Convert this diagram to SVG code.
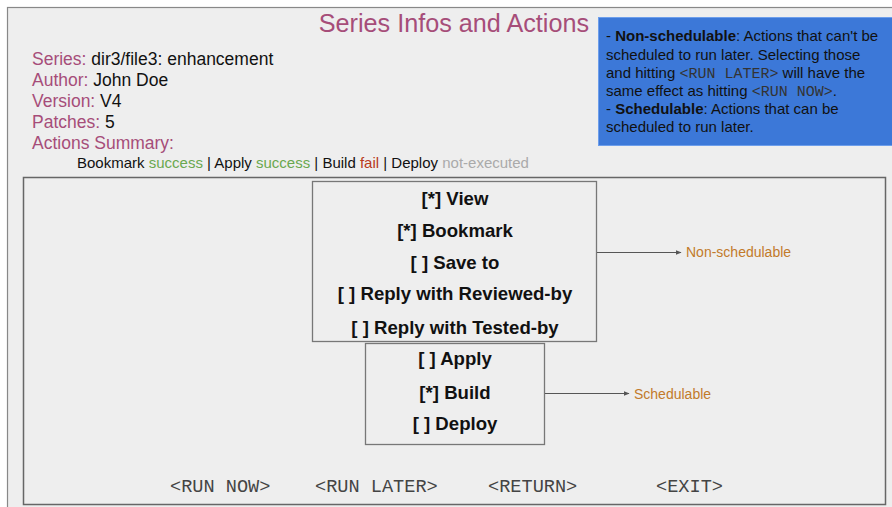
<svg xmlns="http://www.w3.org/2000/svg" width="892" height="507" viewBox="0 0 892 507">
<defs>
<style>
.sans{font-family:"Liberation Sans",Arial,sans-serif}
.lbl{fill:#a64d79}
.val{fill:#111}
.item{font-family:"Liberation Sans",Arial,sans-serif;font-weight:bold;font-size:18.6px;fill:#111;text-anchor:middle}
.box{fill:none;stroke:#777;stroke-width:1.3}
.conn{stroke:#555;stroke-width:1;fill:none;marker-end:url(#ah)}
.tag{font-family:"Liberation Sans",Arial,sans-serif;font-size:14px;fill:#c27a2a}
.btn{font-family:"Liberation Mono","Courier New",monospace;font-size:18.6px;fill:#444}
.note{font-family:"Liberation Sans",Arial,sans-serif;font-size:15px;fill:#111}
.nmono{font-family:"Liberation Mono","Courier New",monospace;font-size:15px;fill:#333}
</style>
<marker id="ah" viewBox="0 0 10 10" refX="9" refY="5" markerWidth="6" markerHeight="6" orient="auto" markerUnits="userSpaceOnUse">
<path d="M0,1 L10,5 L0,9 z" fill="#555"/>
</marker>
</defs>
<rect x="0" y="0" width="892" height="507" fill="#fff"/>
<rect id="frame" x="7.5" y="7.5" width="900" height="520" fill="#eeeeee" stroke="#888" stroke-width="1.2"/>
<rect id="menu" x="23.5" y="177.5" width="862" height="327" fill="#eeeeee" stroke="#666" stroke-width="1.5"/>

<g id="header" class="sans">
<text x="589" y="32" font-size="25.2" fill="#a64d79" text-anchor="end">Series Infos and Actions</text>
<text x="32" y="65" font-size="17.5"><tspan class="lbl">Series:</tspan><tspan class="val"> dir3/file3: enhancement</tspan></text>
<text x="32" y="86" font-size="17.5"><tspan class="lbl">Author:</tspan><tspan class="val"> John Doe</tspan></text>
<text x="32" y="107" font-size="17.5"><tspan class="lbl">Version:</tspan><tspan class="val"> V4</tspan></text>
<text x="32" y="128" font-size="17.5"><tspan class="lbl">Patches:</tspan><tspan class="val"> 5</tspan></text>
<text x="32" y="149" font-size="17.5" fill="#a64d79">Actions Summary:</text>
<text x="77" y="168" font-size="15" fill="#111">Bookmark <tspan fill="#6aa84f">success</tspan> | Apply <tspan fill="#6aa84f">success</tspan> | Build <tspan fill="#b83a1b">fail</tspan> | Deploy <tspan fill="#aaa">not-executed</tspan></text>
</g>

<g id="note">
<rect x="598.5" y="17.5" width="296" height="128" fill="#3c78d8" stroke="#6d9eeb" stroke-width="1"/>
<text class="note" x="606" y="41">- <tspan font-weight="bold">Non-schedulable</tspan>: Actions that can't be</text>
<text class="note" x="606" y="60">scheduled to run later. Selecting those</text>
<text class="note" x="606" y="78">and hitting <tspan class="nmono">&lt;RUN LATER&gt;</tspan> will have the</text>
<text class="note" x="606" y="96">same effect as hitting <tspan class="nmono">&lt;RUN NOW&gt;</tspan>.</text>
<text class="note" x="606" y="114">- <tspan font-weight="bold">Schedulable</tspan>: Actions that can be</text>
<text class="note" x="606" y="132">scheduled to run later.</text>
</g>

<g id="nonsched">
<rect class="box" x="312.5" y="181.5" width="284" height="160"/>
<text class="item" x="455" y="205">[*] View</text>
<text class="item" x="455" y="237">[*] Bookmark</text>
<text class="item" x="455" y="269">[ ] Save to</text>
<text class="item" x="455" y="300">[ ] Reply with Reviewed-by</text>
<text class="item" x="455" y="334">[ ] Reply with Tested-by</text>
</g>

<g id="sched">
<rect class="box" x="365.5" y="343.5" width="179" height="101"/>
<text class="item" x="455" y="365">[ ] Apply</text>
<text class="item" x="455" y="399">[*] Build</text>
<text class="item" x="455" y="430">[ ] Deploy</text>
</g>

<g id="connectors">
<line class="conn" x1="597" y1="252.5" x2="681" y2="252.5"/>
<line class="conn" x1="545" y1="393.5" x2="629" y2="393.5"/>
</g>

<g id="labels">
<text class="tag" x="686" y="257">Non-schedulable</text>
<text class="tag" x="634" y="399">Schedulable</text>
</g>

<g id="buttons">
<text class="btn" x="170" y="492">&lt;RUN NOW&gt;</text>
<text class="btn" x="315" y="492">&lt;RUN LATER&gt;</text>
<text class="btn" x="488" y="492">&lt;RETURN&gt;</text>
<text class="btn" x="656" y="492">&lt;EXIT&gt;</text>
</g>
</svg>
